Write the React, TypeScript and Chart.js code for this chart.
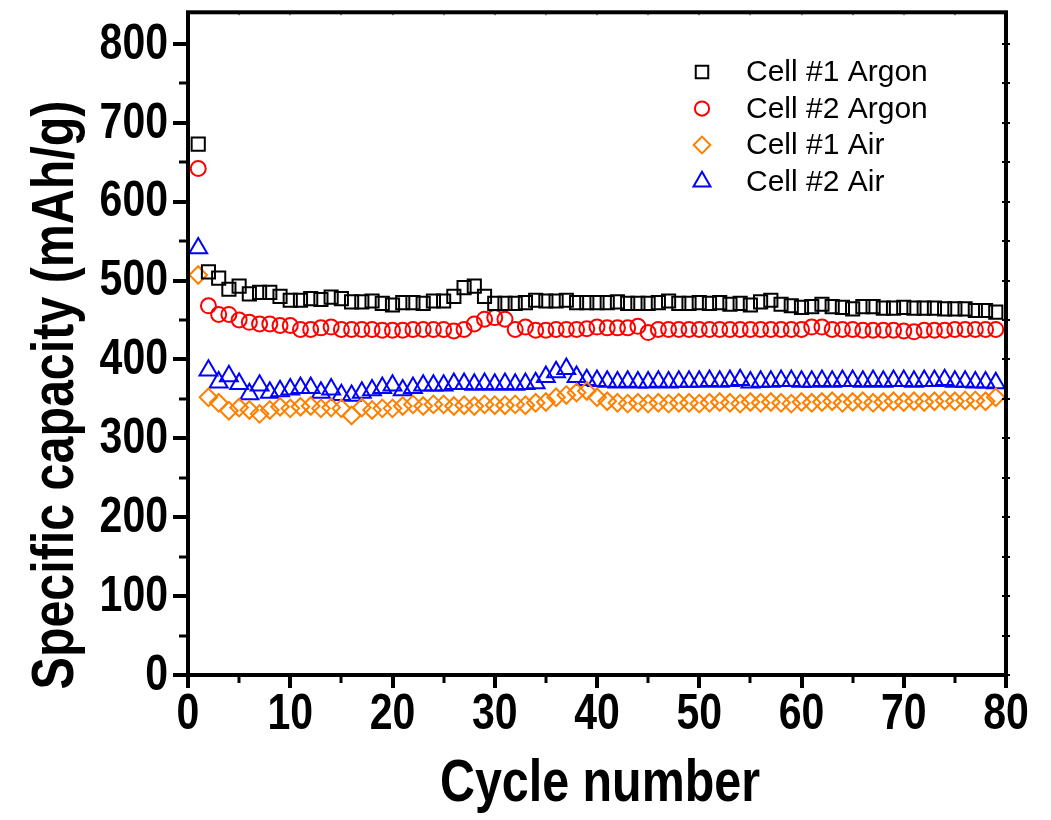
import React, { useEffect, useRef } from 'react';
import { Chart, registerables } from 'chart.js';
import { drawPoint } from 'chart.js/helpers';

Chart.register(...registerables);

const cycles = [
  1, 2, 3, 4, 5, 6, 7, 8, 9, 10,
  11, 12, 13, 14, 15, 16, 17, 18, 19, 20,
  21, 22, 23, 24, 25, 26, 27, 28, 29, 30,
  31, 32, 33, 34, 35, 36, 37, 38, 39, 40,
  41, 42, 43, 44, 45, 46, 47, 48, 49, 50,
  51, 52, 53, 54, 55, 56, 57, 58, 59, 60,
  61, 62, 63, 64, 65, 66, 67, 68, 69, 70,
  71, 72, 73, 74, 75, 76, 77, 78, 79,
];

const cell1Argon = [
  673, 511, 503, 489, 493, 483, 485, 485, 480, 475,
  475, 477, 476, 479, 477, 473, 473, 474, 471, 469,
  472, 472, 471, 474, 474, 480, 491, 493, 480, 471,
  471, 471, 472, 475, 474, 474, 475, 472, 472, 472,
  472, 473, 471, 471, 471, 472, 474, 471, 471, 472,
  471, 472, 470, 471, 469, 473, 475, 470, 468, 466,
  467, 470, 467, 466, 464, 467, 467, 465, 465, 466,
  465, 465, 465, 464, 464, 464, 462, 462, 460,
];

const cell2Argon = [
  642, 468, 457, 457, 450, 447, 445, 445, 443, 443,
  438, 438, 440, 441, 438, 438, 438, 438, 437, 437,
  437, 438, 438, 438, 438, 436, 438, 445, 451, 453,
  451, 438, 441, 437, 437, 438, 438, 438, 439, 441,
  440, 440, 440, 442, 434, 438, 438, 438, 438, 438,
  438, 438, 438, 438, 438, 438, 438, 438, 438, 438,
  441, 441, 438, 438, 438, 437, 437, 437, 437, 436,
  435, 437, 437, 437, 438, 438, 438, 438, 438,
];

const cell1Air = [
  507, 352, 345, 335, 339, 336, 331, 336, 340, 338,
  340, 341, 338, 339, 338, 329, 339, 336, 338, 338,
  341, 343, 341, 343, 343, 341, 342, 341, 343, 342,
  342, 343, 342, 345, 346, 352, 355, 358, 360, 352,
  347, 345, 344, 345, 344, 345, 344, 345, 345, 344,
  345, 346, 345, 344, 346, 345, 346, 345, 344, 346,
  345, 346, 347, 345, 346, 347, 345, 346, 347, 346,
  347, 346, 347, 348, 347, 348, 348, 347, 352,
];

const cell2Air = [
  541, 386, 371, 379, 369, 356, 367, 358, 360, 362,
  364, 364, 358, 362, 355, 354, 358, 361, 364, 367,
  361, 364, 367, 367, 367, 369, 369, 368, 369, 368,
  369, 368, 369, 370, 378, 384, 388, 378, 374, 373,
  372, 371, 372, 371, 371, 372, 371, 372, 372, 372,
  373, 372, 373, 374, 371, 372, 372, 373, 373, 372,
  372, 373, 372, 373, 373, 372, 373, 372, 373, 373,
  372, 373, 373, 374, 372, 372, 371, 371, 370,
];

const seriesLabels = ['Cell #1 Argon', 'Cell #2 Argon', 'Cell #1 Air', 'Cell #2 Air'];
const seriesValues = [cell1Argon, cell2Argon, cell1Air, cell2Air];
const seriesColors = ['#000000', '#ff0000', '#ff8000', '#0000ff'];
const seriesStyles = ['rect', 'circle', 'rectRot', 'triangle'];
const seriesRadius = [9.3, 7.5, 8.8, 10.3];

const xMajorTicks = [0, 10, 20, 30, 40, 50, 60, 70, 80];
const xMinorTicks = [5, 15, 25, 35, 45, 55, 65, 75];
const yMajorTicks = [0, 100, 200, 300, 400, 500, 600, 700, 800];
const yMinorTicks = [50, 150, 250, 350, 450, 550, 650, 750];

const xTitle = 'Cycle number';
const yTitle = 'Specific capacity (mAh/g)';

const BOLD = '"Liberation Sans", Arial, sans-serif';
const REGULAR = '"Liberation Sans", Arial, sans-serif';
const CONDENSE = 0.82;

function condensedText(ctx: any, text: string, x: number, y: number, rotate = 0) {
  ctx.save();
  ctx.translate(x, y);
  if (rotate) ctx.rotate(rotate);
  ctx.scale(CONDENSE, 1);
  ctx.fillText(text, 0, 0);
  ctx.restore();
}

const framePlugin = {
  id: 'frameTicks',
  afterDatasetsDraw(chart: any) {
    const { ctx, chartArea } = chart;
    const { left, right, top, bottom } = chartArea;
    const xs = chart.scales.x;
    const ys = chart.scales.y;
    ctx.save();
    ctx.strokeStyle = '#000';
    ctx.lineCap = 'butt';
    const yAll = [...yMajorTicks.map((v) => [v, true]), ...yMinorTicks.map((v) => [v, false])];
    for (const [v, major] of yAll as any) {
      const py = Math.round(ys.getPixelForValue(v));
      ctx.lineWidth = major ? 4 : 3;
      ctx.beginPath();
      ctx.moveTo(left - (major ? 15 : 9), py);
      ctx.lineTo(left, py);
      ctx.stroke();
      ctx.lineWidth = 2;
      ctx.beginPath();
      ctx.moveTo(right - 4, py);
      ctx.lineTo(right + 4, py);
      ctx.stroke();
    }
    const xAll = [...xMajorTicks.map((v) => [v, true]), ...xMinorTicks.map((v) => [v, false])];
    for (const [v, major] of xAll as any) {
      const px = Math.round(xs.getPixelForValue(v));
      ctx.lineWidth = major ? 4 : 3;
      ctx.beginPath();
      ctx.moveTo(px, bottom);
      ctx.lineTo(px, bottom + (major ? 13 : 8));
      ctx.stroke();
      ctx.strokeStyle = '#888';
      ctx.lineWidth = 2;
      ctx.beginPath();
      ctx.moveTo(px, top);
      ctx.lineTo(px, top + 3);
      ctx.stroke();
      ctx.strokeStyle = '#000';
    }
    ctx.lineWidth = 4;
    ctx.strokeRect(left, top, right - left, bottom - top);
    ctx.restore();
  },
  afterDraw(chart: any) {
    const { ctx, chartArea } = chart;
    const xs = chart.scales.x;
    const ys = chart.scales.y;
    ctx.save();
    ctx.fillStyle = '#000';
    ctx.font = `bold 50px ${BOLD}`;
    ctx.textBaseline = 'middle';
    ctx.textAlign = 'right';
    ys.ticks.forEach((t: any) => {
      condensedText(ctx, String(t.label), chartArea.left - 20, ys.getPixelForValue(t.value) + 1);
    });
    ctx.textAlign = 'center';
    ctx.textBaseline = 'top';
    xs.ticks.forEach((t: any) => {
      condensedText(ctx, String(t.label), xs.getPixelForValue(t.value), chartArea.bottom + 15);
    });
    ctx.font = `bold 59px ${BOLD}`;
    ctx.textAlign = 'center';
    ctx.textBaseline = 'middle';
    condensedText(ctx, xTitle, (chartArea.left + chartArea.right) / 2 + 3, 785);
    condensedText(ctx, yTitle, 57, 395, -Math.PI / 2);
    ctx.font = `30px ${REGULAR}`;
    ctx.textAlign = 'left';
    chart.data.datasets.forEach((ds: any, i: number) => {
      const cy = 72 + i * 36.5;
      ctx.strokeStyle = ds.borderColor;
      ctx.fillStyle = 'rgba(0,0,0,0)';
      ctx.lineWidth = 2;
      drawPoint(ctx, { pointStyle: ds.pointStyle, radius: ds.pointRadius * 0.95, rotation: 0, borderWidth: 2 } as any, 702, cy);
      ctx.fillStyle = '#000';
      ctx.fillText(ds.label, 746, cy + 1);
    });
    ctx.restore();
  },
};

export default function App() {
  const canvasRef = useRef<HTMLCanvasElement | null>(null);

  useEffect(() => {
    const canvas = canvasRef.current;
    if (!canvas) return;
    const datasets = seriesValues.map((vals, i) => ({
      label: seriesLabels[i],
      data: vals.map((v, j) => ({ x: cycles[j], y: v })),
      showLine: false,
      pointStyle: seriesStyles[i],
      pointRadius: seriesRadius[i],
      pointBorderWidth: 2,
      borderColor: seriesColors[i],
      pointBorderColor: seriesColors[i],
      backgroundColor: 'rgba(0,0,0,0)',
      pointBackgroundColor: 'rgba(0,0,0,0)',
    }));
    const chart = new Chart(canvas, {
      type: 'scatter',
      data: { datasets },
      options: {
        animation: false,
        responsive: false,
        devicePixelRatio: 1,
        layout: { padding: { top: 10, right: 45, left: 0, bottom: 0 } },
        plugins: { legend: { display: false }, tooltip: { enabled: false } },
        scales: {
          x: {
            type: 'linear',
            min: 0,
            max: 80,
            afterFit: (s: any) => {
              s.height = 145;
              s.paddingLeft = 0;
              s.paddingRight = 0;
            },
            grid: { display: false },
            border: { display: false },
            ticks: { stepSize: 10, display: false, autoSkip: false, maxRotation: 0 },
          },
          y: {
            type: 'linear',
            min: 0,
            max: 840,
            afterFit: (s: any) => {
              s.width = 188;
              s.paddingTop = 0;
              s.paddingBottom = 0;
            },
            grid: { display: false },
            border: { display: false },
            ticks: { stepSize: 100, includeBounds: false, display: false },
          },
        },
      },
      plugins: [framePlugin],
    });
    return () => chart.destroy();
  }, []);

  return (
    <div style={{ position: 'fixed', left: 0, top: 0, width: 1051, height: 820, background: '#fff' }}>
      <canvas ref={canvasRef} width={1051} height={820} style={{ width: 1051, height: 820, display: 'block' }} />
    </div>
  );
}
